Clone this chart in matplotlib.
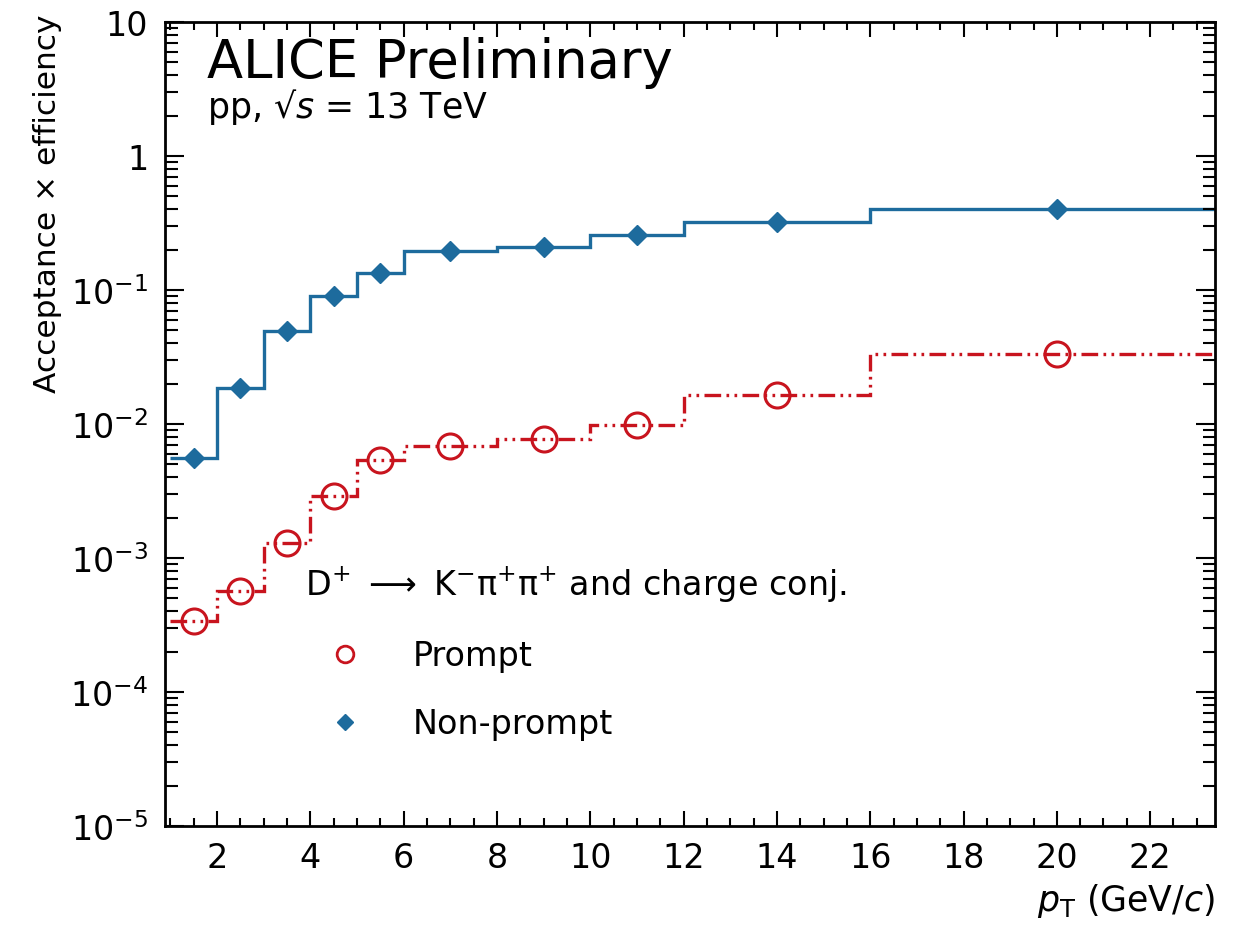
import numpy as np
import matplotlib
matplotlib.use("Agg")
import matplotlib.pyplot as plt
from matplotlib.lines import Line2D
from matplotlib.ticker import FixedLocator, MultipleLocator, FuncFormatter, NullFormatter

# D+ acceptance x efficiency
pt_edges = [1, 2, 3, 4, 5, 6, 8, 10, 12, 16, 24]
eff_prompt = [3.40e-4, 5.70e-4, 1.29e-3, 2.92e-3, 5.42e-3, 6.81e-3, 7.73e-3, 9.84e-3, 1.64e-2, 3.33e-2]
eff_nonprompt = [5.55e-3, 1.85e-2, 4.92e-2, 9.06e-2, 0.134, 0.195, 0.210, 0.257, 0.324, 0.402]

x_ticks = [2, 4, 6, 8, 10, 12, 14, 16, 18, 20, 22]
y_decades = [-5, -4, -3, -2, -1, 0, 1]

label_prompt = "Prompt"
label_nonprompt = "Non-prompt"
decay_title = (r"D$^{+}$ $\longrightarrow$ K$^{-}\mathrm{\pi}^{+}\mathrm{\pi}^{+}$"
               " and charge conj.")

red = "#c8141e"
blue = "#1d6b9d"

plt.rcParams["font.family"] = ["DejaVu Sans"]
plt.rcParams["mathtext.fontset"] = "dejavusans"

edges = np.array(pt_edges, dtype=float)
centers = 0.5 * (edges[1:] + edges[:-1])

fig = plt.figure(figsize=(12.35, 9.28), dpi=100)
ax = fig.add_axes([0.1336, 0.1088, 0.8502, 0.8664])

# histograms drawn as steps, markers at bin centres
ax.stairs(eff_nonprompt, edges, baseline=None, color=blue, lw=2.4)
ax.stairs(eff_prompt, edges, baseline=None, color=red, lw=2.4,
          linestyle=(0, (5, 1.6, 0.8, 1.6, 0.8, 1.6)))
ax.plot(centers, eff_nonprompt, ls="none", marker="D", ms=10.5, color=blue)
ax.plot(centers, eff_prompt, ls="none", marker="o", ms=18, mfc="none",
        mec=red, mew=2.2)

ax.set_yscale("log")
ax.set_xlim(0.885, 23.39)
ax.set_ylim(1e-5, 10)

# ROOT style ticks on all sides, only inside the frame
ax.set_xticks(x_ticks)
ax.xaxis.set_minor_locator(MultipleLocator(0.5))
ax.set_yticks([10.0 ** e for e in y_decades])
minor_y = [m * 10.0 ** e for e in y_decades[:-1] for m in range(2, 10)]
ax.yaxis.set_minor_locator(FixedLocator(minor_y))
ax.yaxis.set_minor_formatter(NullFormatter())


def fmt_log(v, pos):
    e = int(round(np.log10(v)))
    if e == 0:
        return "1"
    if e == 1:
        return "10"
    return r"$10^{%d}$" % e


ax.yaxis.set_major_formatter(FuncFormatter(fmt_log))
ax.tick_params(which="both", direction="in", top=True, right=True, width=1.5,
               labelsize=24)
ax.tick_params(axis="x", which="major", length=11, pad=11)
ax.tick_params(axis="x", which="minor", length=6)
ax.tick_params(axis="y", which="major", length=14, pad=12)
ax.tick_params(axis="y", which="minor", length=9)
for s in ax.spines.values():
    s.set_linewidth(2)

ax.set_ylabel("Acceptance \u00d7 efficiency", fontsize=22.5, loc="top")
ax.yaxis.set_label_coords(-0.098, 1.01)
ax.set_xlabel(r"$p_{\rm T}$ (GeV/$c$)", fontsize=25, loc="right")
ax.xaxis.set_label_coords(1.0, -0.068)

ax.text(0.04, 0.9316, "ALICE Preliminary", transform=ax.transAxes,
        fontsize=38, va="baseline")
ax.text(0.04, 0.882, "pp, \u221a$s$ = 13 TeV", transform=ax.transAxes,
        fontsize=25, va="baseline")

handles = [
    Line2D([], [], ls="none", marker="o", ms=12, mfc="none", mec=red, mew=2),
    Line2D([], [], ls="none", marker="D", ms=8, color=blue),
]
leg = ax.legend(handles, [label_prompt, label_nonprompt], title=decay_title,
                loc="upper left", bbox_to_anchor=(0.133, 0.325), frameon=False,
                fontsize=24, title_fontsize=24, alignment="left",
                borderpad=0, borderaxespad=0, handlelength=2.4,
                handletextpad=0.85, labelspacing=1.05)

fig.savefig("out.png", dpi=100, facecolor="white")
